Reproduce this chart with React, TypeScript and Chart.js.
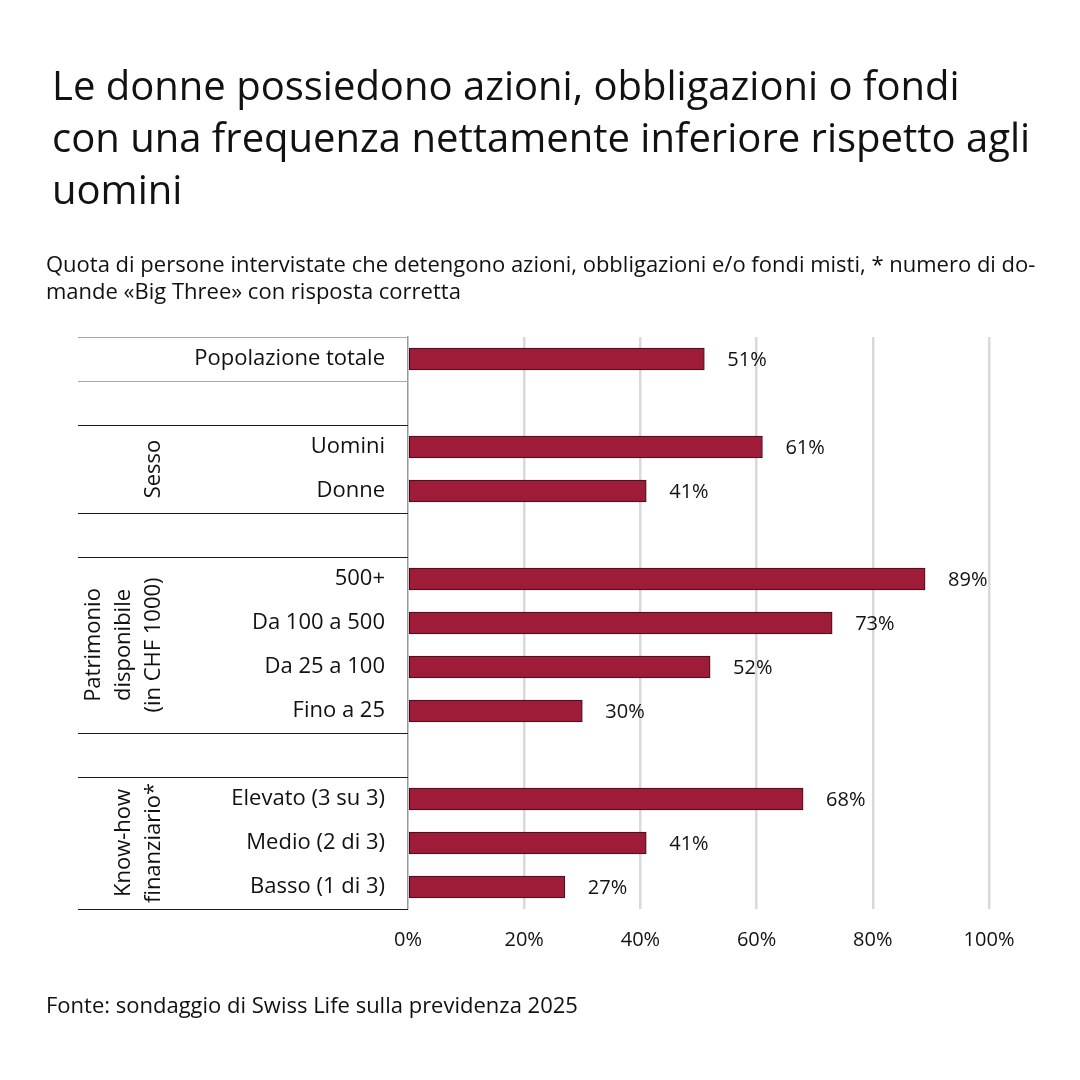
import React, { useEffect, useRef } from "react";
import { Chart, registerables } from "chart.js";

Chart.register(...registerables);

const FONT = "'Open Sans', Lato, sans-serif";

const categories: string[] = [
  "Popolazione totale",
  "",
  "Uomini",
  "Donne",
  "",
  "500+",
  "Da 100 a 500",
  "Da 25 a 100",
  "Fino a 25",
  "",
  "Elevato (3 su 3)",
  "Medio (2 di 3)",
  "Basso (1 di 3)",
];

const values: (number | null)[] = [51, null, 61, 41, null, 89, 73, 52, 30, null, 68, 41, 27];

const xTicks: number[] = [0, 20, 40, 60, 80, 100];

// group label lines, and index ranges of the rows they cover
const groupLabels: string[][] = [["Sesso"], ["Patrimonio", "disponibile", "(in CHF 1000)"], ["Know-how", "finanziario*"]];
const groupStart: number[] = [2, 5, 10];
const groupEnd: number[] = [3, 8, 12];

// row boundaries (line after row index; -1 = top)
const separatorsAfter: number[] = [-1, 0, 1, 3, 4, 8, 9, 12];
const graySeparators: number[] = [-1, 0];

const titleLines: string[] = [
  "Le donne possiedono azioni, obbligazioni o fondi",
  "con una frequenza nettamente inferiore rispetto agli",
  "uomini",
];
const subtitleLines: string[] = [
  "Quota di persone intervistate che detengono azioni, obbligazioni e/o fondi misti, * numero di do-",
  "mande «Big Three» con risposta corretta",
];
const source = "Fonte: sondaggio di Swiss Life sulla previdenza 2025";

const BAR = "#9e1c38";

export default function App() {
  const ref = useRef<HTMLCanvasElement>(null);

  useEffect(() => {
    if (!ref.current) return;
    const tablePlugin = {
      id: "tablePlugin",
      afterDraw(chart: any) {
        const ctx = chart.ctx;
        const y = chart.scales.y;
        const x = chart.scales.x;
        const area = chart.chartArea;
        const boundary = (i: number) => {
          if (i < 0) return area.top;
          if (i >= categories.length - 1) return area.bottom;
          return (y.getPixelForValue(i) + y.getPixelForValue(i + 1)) / 2;
        };
        ctx.save();
        // separators
        separatorsAfter.forEach((i) => {
          const py = Math.round(boundary(i)) + 0.5;
          ctx.strokeStyle = graySeparators.includes(i) ? "#a8a8a8" : "#1a1a1a";
          ctx.lineWidth = 1.2;
          ctx.beginPath();
          ctx.moveTo(78, py);
          ctx.lineTo(area.left, py);
          ctx.stroke();
        });
        // group labels
        ctx.fillStyle = "#111";
        ctx.font = `22px ${FONT}`;
        ctx.textAlign = "center";
        ctx.textBaseline = "middle";
        groupLabels.forEach((lines, g) => {
          const cy = (boundary(groupStart[g] - 1) + boundary(groupEnd[g])) / 2;
          const lh = 30;
          const lastX = 154;
          lines.forEach((line, k) => {
            const cx = lastX - (lines.length - 1 - k) * lh;
            ctx.save();
            ctx.translate(cx, cy);
            ctx.rotate(-Math.PI / 2);
            ctx.fillText(line, 0, 0);
            ctx.restore();
          });
        });
        // value labels
        ctx.textAlign = "left";
        ctx.font = `20px ${FONT}`;
        values.forEach((v, i) => {
          if (v == null) return;
          const px = x.getPixelForValue(v) + 23;
          const py = y.getPixelForValue(i);
          ctx.fillText(`${v}%`, px, py + 1);
        });
        ctx.restore();
      },
    };

    const chart = new Chart(ref.current, {
      type: "bar",
      data: {
        labels: categories,
        datasets: [
          {
            data: values as any,
            backgroundColor: BAR,
            borderColor: "#3b0a16",
            borderWidth: 1,
            borderSkipped: false,
            barThickness: 22,
          },
        ],
      },
      options: {
        indexAxis: "y",
        animation: false,
        responsive: false,
        maintainAspectRatio: false,
        layout: { padding: { top: 337, right: 91, bottom: 111, left: 0 } },
        plugins: { legend: { display: false }, tooltip: { enabled: false }, title: { display: false } },
        scales: {
          x: {
            min: 0,
            max: 100,
            afterBuildTicks: (s: any) => {
              s.ticks = xTicks.map((v) => ({ value: v }));
            },
            afterFit: (s: any) => {
              s.height = 60;
            },
            ticks: {
              callback: (v: any) => `${v}%`,
              font: { family: FONT, size: 20 },
              color: "#111",
              padding: 19,
            },
            grid: {
              color: (c: any) => (c.tick && c.tick.value === 0 ? "rgba(0,0,0,0)" : "#d9d9d9"),
              lineWidth: 2.5,
              drawTicks: false,
            },
            border: { display: false },
          },
          y: {
            afterFit: (s: any) => {
              s.width = 408;
            },
            ticks: {
              font: { family: FONT, size: 22 },
              color: "#111",
              padding: 23,
              autoSkip: false,
            },
            grid: { display: false, drawTicks: false },
            border: { display: true, color: "#9a9a9a", width: 1.5 },
          },
        },
      },
      plugins: [tablePlugin],
    });
    return () => chart.destroy();
  }, []);

  return (
    <div style={{ position: "absolute", left: 0, top: 0, width: 1080, height: 1080, background: "#fff", fontFamily: FONT, color: "#111" }}>
      <canvas ref={ref} width={1080} height={1080} style={{ position: "absolute", left: 0, top: 0 }} />
      <div style={{ position: "absolute", left: 52, top: 59, fontSize: 40, lineHeight: "52px", whiteSpace: "nowrap" }}>
        {titleLines.map((l, i) => (
          <div key={i}>{l}</div>
        ))}
      </div>
      <div style={{ position: "absolute", left: 46, top: 250, fontSize: 22, lineHeight: "27px", whiteSpace: "nowrap" }}>
        {subtitleLines.map((l, i) => (
          <div key={i}>{l}</div>
        ))}
      </div>
      <div style={{ position: "absolute", left: 46, top: 991, fontSize: 22, lineHeight: "27px", whiteSpace: "nowrap" }}>{source}</div>
    </div>
  );
}
